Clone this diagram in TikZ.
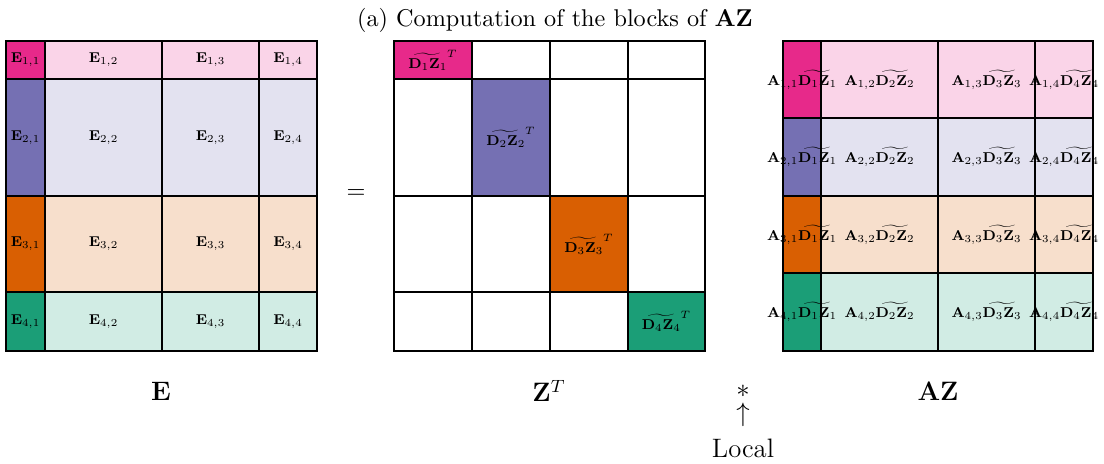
\documentclass[tikz,border=0pt]{standalone}
\usepackage{tikz}
\usetikzlibrary{positioning}
\definecolor{blkpink}{HTML}{E7298A}
\definecolor{blkpurple}{HTML}{7570B3}
\definecolor{blkorange}{HTML}{D95F02}
\definecolor{blkgreen}{HTML}{1B9E77}
\tikzset{
  bcell/.style={draw=black, line width=0.8pt},
  blbl/.style={font=\footnotesize, scale=0.8, inner sep=0pt},
  mlbl/.style={font=\large, inner sep=1pt},
}

\begin{document}
\begin{tikzpicture}[x=0.45pt, y=-0.45pt]
    \useasboundingbox (0,0) rectangle (1104,463);
    \node[font=\fontsize{10.9}{13}\selectfont] (title) at (555,20) {(a) Computation of the blocks of $\mathbf{AZ}$};
    % E
    \foreach \r/\ya/\yb/\col in {1/41/79/blkpink, 2/79/196/blkpurple, 3/196/292/blkorange, 4/292/351/blkgreen}{
      \foreach \c/\xa/\xb in {1/6/45, 2/45/162, 3/162/259, 4/259/317}{
        \ifnum\c=1 \def\fc{\col}\else\def\fc{\col!20}\fi
        \draw[bcell, fill=\fc] (\xa,\ya) rectangle (\xb,\yb);
        \node[blbl] (e\r\c) at ({(\xa+\xb)/2},{(\ya+\yb)/2}) {$\mathbf{E}_{\r,\c}$};
      }
    }
    \node[font=\fontsize{10.9}{13}\selectfont] (eq) at (356,194) {$=$};
    % Z^T
    \foreach \r/\ya/\yb/\col in {1/41/79/blkpink, 2/79/196/blkpurple, 3/196/292/blkorange, 4/292/351/blkgreen}{
      \foreach \c/\xa/\xb in {1/394/472, 2/472/550, 3/550/628, 4/628/705}{
        \ifnum\c=\r \def\fc{\col}\else\def\fc{white}\fi
        \draw[bcell, fill=\fc] (\xa,\ya) rectangle (\xb,\yb);
      }
    }
    \foreach \r/\xa/\xb/\ya/\yb in {1/394/472/41/79, 2/472/550/79/196, 3/550/628/196/292, 4/628/705/292/351}
      \node[blbl] (z\r) at ({(\xa+\xb)/2},{(\ya+\yb)/2}) {$\widetilde{\mathbf{D}_\r\mathbf{Z}_\r}^T$};
    % AZ
    \foreach \r/\ya/\yb/\col in {1/41/118/blkpink, 2/118/196/blkpurple, 3/196/273/blkorange, 4/273/351/blkgreen}{
      \foreach \c/\xa/\xb in {1/783/821, 2/821/938, 3/938/1035, 4/1035/1093}{
        \ifnum\c=1 \def\fc{\col}\else\def\fc{\col!20}\fi
        \draw[bcell, fill=\fc] (\xa,\ya) rectangle (\xb,\yb);
      }
    }
    \foreach \r/\ya/\yb in {1/41/118, 2/118/196, 3/196/273, 4/273/351}{
      \foreach \c/\xa/\xb in {1/783/821, 2/821/938, 3/938/1035, 4/1035/1093}
        \node[blbl] (az\r\c) at ({(\xa+\xb)/2},{(\ya+\yb)/2}) {$\mathbf{A}_{\r,\c}\widetilde{\mathbf{D}_\c\mathbf{Z}_\c}$};
    }
    % names below
    \node[mlbl] (lE) at (161,391) {$\mathbf{E}$};
    \node[mlbl] (lZ) at (549,391) {$\mathbf{Z}^T$};
    \node[mlbl] (lAZ) at (938,391) {$\mathbf{AZ}$};
    \node[mlbl] (star) at (743,391) {$*$};
    \node[mlbl] (up) at (743,415) {$\uparrow$};
    \node[mlbl] (local) at (743,448) {Local};
\end{tikzpicture}
\end{document}
